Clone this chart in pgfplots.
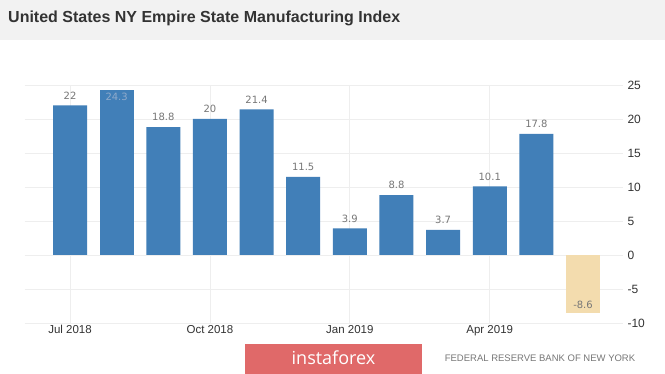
\documentclass[border=0pt]{standalone}
\usepackage{pgfplots}
\pgfplotsset{compat=1.18}
\usepackage{fontspec}
\setmainfont{Liberation Sans}
\newfontfamily\valfont{DejaVu Sans}
\newfontfamily\logofont{Open Sans}
\definecolor{barblue}{HTML}{417FB8}
\definecolor{negbar}{HTML}{F3DCAE}
\definecolor{valgray}{HTML}{777777}
\definecolor{txtdark}{HTML}{333333}
\definecolor{band}{HTML}{F2F2F2}
\definecolor{logored}{HTML}{E06969}
\definecolor{gridc}{HTML}{EEEEEE}
\definecolor{insideval}{HTML}{8FAACB}
\begin{document}
\begin{tikzpicture}[x=1pt,y=1pt]
\fill[white] (0,0) rectangle (665,374);
\fill[band] (0,334) rectangle (665,374);
\useasboundingbox (0,0) rectangle (665,374);
\node[anchor=west, font=\bfseries\fontsize{16}{18}\selectfont, text=txtdark, inner sep=0pt] at (8,356) {United States NY Empire State Manufacturing Index};
\begin{axis}[
  at={(25pt,51pt)}, anchor=south west,
  width=598pt, height=238pt, scale only axis,
  xmin=-0.965, xmax=11.857,
  ymin=-10, ymax=25,
  axis line style={draw=none},
  tick style={draw=none},
  grid=major,
  major grid style={gridc, line width=0.8pt},
  xtick={0,3,6,9},
  xticklabels={Jul 2018, Oct 2018, Jan 2019, Apr 2019},
  ytick={-10,-5,0,5,10,15,20,25},
  yticklabel pos=right,
  /pgf/number format/assume math mode=true,
  xticklabel style={font=\fontsize{11.5}{13}\selectfont, text=txtdark, yshift=1pt},
  yticklabel style={font=\fontsize{12}{14}\selectfont, text=txtdark, anchor=west, xshift=1pt},
  clip=false,
]
\addplot[ybar, bar width=34pt, bar shift=0pt, fill=barblue, draw=none,
  nodes near coords,
  every node near coord/.append style={font=\valfont\fontsize{10}{12}\selectfont, text=valgray, yshift=2.5pt}]
  coordinates {(0,22) (2,18.8) (3,20) (4,21.4) (5,11.5) (6,3.9) (7,8.8) (8,3.7) (9,10.1) (10,17.8)};
\addplot[ybar, bar width=34pt, bar shift=0pt, fill=barblue, draw=none,
  nodes near coords,
  nodes near coords align={below},
  every node near coord/.append style={font=\valfont\fontsize{10}{12}\selectfont, text=insideval, anchor=north, yshift=0pt}]
  coordinates {(1,24.3)};
\addplot[ybar, bar width=34pt, bar shift=0pt, fill=negbar, draw=none,
  nodes near coords,
  nodes near coords align={above},
  every node near coord/.append style={font=\valfont\fontsize{10}{12}\selectfont, text=valgray, anchor=south, yshift=1pt}]
  coordinates {(11,-8.6)};
\end{axis}
\fill[logored] (245,0) rectangle (422,30);
\node[font=\logofont\fontsize{18}{20}\selectfont, text=white] at (333.5,16) {instaforex};
\node[font=\fontsize{9.5}{11}\selectfont, text=valgray] at (540,16) {FEDERAL RESERVE BANK OF NEW YORK};
\end{tikzpicture}
\end{document}
